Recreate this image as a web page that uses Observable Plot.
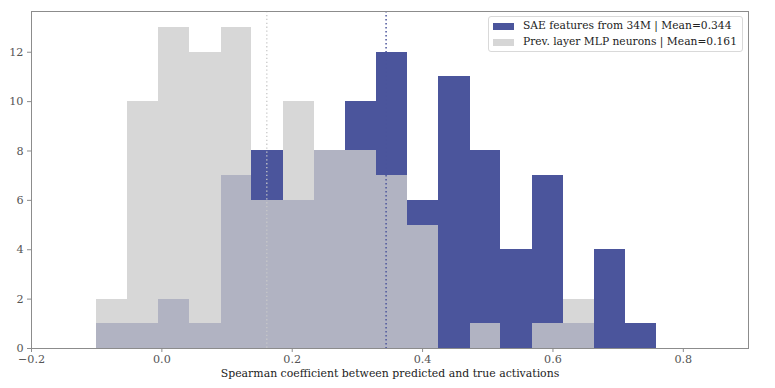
<!DOCTYPE html>
<html>
<head>
<meta charset="utf-8">
<script src="https://cdn.jsdelivr.net/npm/d3@7"></script>
<script src="https://cdn.jsdelivr.net/npm/@observablehq/plot@0.6"></script>
<style>
  html, body { margin: 0; padding: 0; background: #fff; }
  #wrap { position: relative; width: 775px; height: 388px; font-family: "DejaVu Serif", serif; }
  #legend { position: absolute; left: 488px; top: 16px; width: 255px; height: 36px;
    border: 1px solid #d9d9d9; border-radius: 3px; background: rgba(255,255,255,0.85); box-sizing: border-box; }
  .row { position: absolute; left: 0; height: 16px; font-size: 10.7px; color: #222; white-space: nowrap; }
  .sw { position: absolute; left: 4px; width: 21px; height: 7px; }
  .lab { position: absolute; left: 34px; top: 0px; line-height: 16px; }
</style>
</head>
<body>
<div id="wrap"><div id="legend"></div></div>
<script>
// Shared histogram bin edges
const binEdges = [-0.100, -0.052, -0.005, 0.043, 0.091, 0.138, 0.186, 0.234, 0.282, 0.329,
                  0.377, 0.425, 0.473, 0.520, 0.568, 0.616, 0.663, 0.711, 0.759];
// Counts per bin
const saeCounts = [1, 1, 2, 1, 7, 8, 6, 8, 10, 12, 6, 11, 8, 4, 7, 1, 4, 1];
const mlpCounts = [2, 10, 13, 12, 13, 6, 10, 8, 8, 7, 5, 0, 1, 0, 1, 2, 0, 0];
const seriesNames = ["SAE features from 34M", "Prev. layer MLP neurons"];
const seriesMeans = [0.344, 0.161];
const seriesColors = ["#4b559c", "#cccccc"];
const xTicks = [-0.2, 0.0, 0.2, 0.4, 0.6, 0.8];
const yTicks = [0, 2, 4, 6, 8, 10, 12];
const xLabel = "Spearman coefficient between predicted and true activations";

const toBins = counts => counts.map((c, i) => ({x1: binEdges[i], x2: binEdges[i + 1], y: c}));
const sae = toBins(saeCounts);
const mlp = toBins(mlpCounts);

const tickColor = "#555";
const chart = Plot.plot({
  width: 775,
  height: 388,
  marginLeft: 31,
  marginRight: 27,
  marginTop: 11,
  marginBottom: 40,
  style: {fontFamily: "DejaVu Serif, serif", fontSize: "11px", background: "#fff"},
  x: {domain: [-0.2, 0.9]},
  y: {domain: [0, 13.65]},
  marks: [
    Plot.rectY(sae, {x1: "x1", x2: "x2", y: "y", fill: seriesColors[0], shapeRendering: "crispEdges"}),
    Plot.rectY(mlp, {x1: "x1", x2: "x2", y: "y", fill: seriesColors[1], fillOpacity: 0.79, shapeRendering: "crispEdges"}),
    Plot.ruleX([seriesMeans[1]], {stroke: "#c8c8c8", strokeWidth: 1.3, strokeDasharray: "1.3,2.6"}),
    Plot.ruleX([seriesMeans[0]], {stroke: seriesColors[0], strokeWidth: 1.5, strokeDasharray: "1.5,2.5"}),
    Plot.frame({stroke: "#8c8c8c", strokeWidth: 1}),
    Plot.axisX({ticks: xTicks, tickFormat: d3.format(".1f"), tickSize: 4, tickPadding: 3,
      stroke: "#8c8c8c", color: tickColor, fontSize: 11.2, label: null}),
    Plot.axisY({ticks: yTicks, tickFormat: d3.format("d"), tickSize: 4, tickPadding: 4,
      stroke: "#8c8c8c", color: tickColor, fontSize: 11.2, label: null}),
    Plot.text([xLabel], {frameAnchor: "bottom", dy: 28, fontSize: 10.9, fill: "#222"})
  ]
});
document.getElementById("wrap").prepend(chart);

const legend = document.getElementById("legend");
seriesNames.forEach((name, i) => {
  const row = document.createElement("div");
  row.className = "row";
  row.style.top = (i === 0 ? 1 : 17) + "px";
  row.style.width = "100%";
  const sw = document.createElement("div");
  sw.className = "sw";
  sw.style.top = "5px";
  sw.style.background = i === 1 ? "#d6d6d6" : seriesColors[i];
  const lab = document.createElement("div");
  lab.className = "lab";
  lab.textContent = `${name} | Mean=${seriesMeans[i].toFixed(3)}`;
  row.appendChild(sw);
  row.appendChild(lab);
  legend.appendChild(row);
});
</script>
</body>
</html>
